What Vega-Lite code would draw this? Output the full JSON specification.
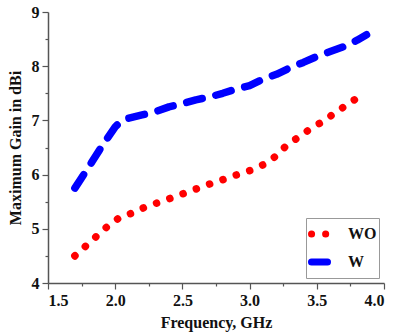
{
  "$schema": "https://vega.github.io/schema/vega-lite/v6.json",
  "width": 336,
  "height": 271,
  "autosize": {"type": "none"},
  "padding": {"left": 48, "top": 12, "right": 11, "bottom": 50},
  "background": "white",
  "config": {
    "view": {"stroke": null},
    "axis": {
      "grid": false,
      "domainColor": "#555",
      "tickColor": "#555",
      "domainWidth": 1.5,
      "tickWidth": 1.2,
      "labelFont": "Liberation Serif",
      "labelFontWeight": "bold",
      "labelFontSize": 16,
      "labelColor": "#111",
      "titleFont": "Liberation Serif",
      "titleFontWeight": "bold",
      "titleFontSize": 16,
      "titleColor": "#111",
      "labelOverlap": false
    },
    "legend": {
      "title": null,
      "orient": "bottom-right",
      "offset": 5,
      "strokeColor": "#999",
      "padding": 2,
      "symbolType": "stroke",
      "symbolSize": 441,
      "symbolStrokeWidth": 1,
      "labelFont": "Liberation Serif",
      "labelFontWeight": "bold",
      "labelFontSize": 16,
      "labelColor": "#111",
      "labelOffset": 12,
      "rowPadding": 0
    }
  },
  "data": {
    "values": [
      {"f": 1.70, "g": 4.50, "s": "WO"},
      {"f": 1.78, "g": 4.68, "s": "WO"},
      {"f": 1.86, "g": 4.86, "s": "WO"},
      {"f": 1.94, "g": 5.04, "s": "WO"},
      {"f": 2.04, "g": 5.22, "s": "WO"},
      {"f": 2.14, "g": 5.30, "s": "WO"},
      {"f": 2.23, "g": 5.41, "s": "WO"},
      {"f": 2.33, "g": 5.49, "s": "WO"},
      {"f": 2.43, "g": 5.58, "s": "WO"},
      {"f": 2.53, "g": 5.67, "s": "WO"},
      {"f": 2.63, "g": 5.76, "s": "WO"},
      {"f": 2.73, "g": 5.85, "s": "WO"},
      {"f": 2.83, "g": 5.93, "s": "WO"},
      {"f": 2.93, "g": 6.02, "s": "WO"},
      {"f": 3.01, "g": 6.08, "s": "WO"},
      {"f": 3.10, "g": 6.18, "s": "WO"},
      {"f": 3.19, "g": 6.33, "s": "WO"},
      {"f": 3.28, "g": 6.55, "s": "WO"},
      {"f": 3.37, "g": 6.70, "s": "WO"},
      {"f": 3.455, "g": 6.85, "s": "WO"},
      {"f": 3.545, "g": 6.98, "s": "WO"},
      {"f": 3.63, "g": 7.13, "s": "WO"},
      {"f": 3.72, "g": 7.28, "s": "WO"},
      {"f": 3.81, "g": 7.43, "s": "WO"},
      {"f": 1.70, "g": 5.75, "s": "W"},
      {"f": 1.80, "g": 6.13, "s": "W"},
      {"f": 1.90, "g": 6.52, "s": "W"},
      {"f": 2.00, "g": 6.88, "s": "W"},
      {"f": 2.05, "g": 7.00, "s": "W"},
      {"f": 2.10, "g": 7.04, "s": "W"},
      {"f": 2.20, "g": 7.10, "s": "W"},
      {"f": 2.30, "g": 7.16, "s": "W"},
      {"f": 2.40, "g": 7.25, "s": "W"},
      {"f": 2.50, "g": 7.31, "s": "W"},
      {"f": 2.60, "g": 7.38, "s": "W"},
      {"f": 2.70, "g": 7.43, "s": "W"},
      {"f": 2.80, "g": 7.50, "s": "W"},
      {"f": 2.90, "g": 7.58, "s": "W"},
      {"f": 3.00, "g": 7.64, "s": "W"},
      {"f": 3.10, "g": 7.76, "s": "W"},
      {"f": 3.20, "g": 7.85, "s": "W"},
      {"f": 3.30, "g": 7.97, "s": "W"},
      {"f": 3.40, "g": 8.07, "s": "W"},
      {"f": 3.50, "g": 8.18, "s": "W"},
      {"f": 3.60, "g": 8.27, "s": "W"},
      {"f": 3.70, "g": 8.36, "s": "W"},
      {"f": 3.80, "g": 8.48, "s": "W"},
      {"f": 3.87, "g": 8.58, "s": "W"}
    ]
  },
  "mark": {"type": "line", "strokeWidth": 7.5, "strokeCap": "round", "strokeJoin": "round"},
  "encoding": {
    "x": {
      "field": "f", "type": "quantitative",
      "scale": {"domain": [1.5, 4.0], "nice": false, "zero": false},
      "axis": {
        "title": "Frequency, GHz",
        "values": [1.5, 1.75, 2.0, 2.25, 2.5, 2.75, 3.0, 3.25, 3.5, 3.75, 4.0],
        "labelExpr": "(datum.value * 2) % 1 === 0 ? format(datum.value, '.1f') : ''",
        "tickSize": {"condition": {"test": "(datum.value * 2) % 1 === 0", "value": 6}, "value": 3},
        "labelFont": "Liberation Serif",
        "labelFontWeight": "bold",
        "labelFontSize": 16,
        "labelPadding": 3,
        "titlePadding": 6
      }
    },
    "y": {
      "field": "g", "type": "quantitative",
      "scale": {"domain": [4, 9], "nice": false, "zero": false},
      "axis": {
        "title": "Maximum Gain in dBi",
        "values": [4, 4.5, 5, 5.5, 6, 6.5, 7, 7.5, 8, 8.5, 9],
        "labelExpr": "datum.value % 1 === 0 ? format(datum.value, 'd') : ''",
        "tickSize": {"condition": {"test": "datum.value % 1 === 0", "value": 6}, "value": 3},
        "labelFont": "Liberation Serif",
        "labelFontWeight": "bold",
        "labelFontSize": 16,
        "labelPadding": 3,
        "titlePadding": 8
      }
    },
    "color": {
      "field": "s", "type": "nominal",
      "scale": {"domain": ["WO", "W"], "range": ["#ff0000", "#0000ff"]},
      "legend": {
        "encode": {"symbols": {"update": {"strokeCap": {"value": "round"}, "strokeWidth": {"value": 7}, "strokeDash": [{"test": "datum.value === 'WO'", "value": [0.1, 10]}, {"value": [16, 14]}]}}}
      }
    },
    "strokeDash": {
      "field": "s", "type": "nominal",
      "scale": {"domain": ["WO", "W"], "range": [[0.1, 14], [16, 14]]},
      "legend": {
        "encode": {"symbols": {"update": {"strokeCap": {"value": "round"}, "strokeWidth": {"value": 7}, "strokeDash": [{"test": "datum.value === 'WO'", "value": [0.1, 10]}, {"value": [16, 14]}]}}}
      }
    }
  }
}
